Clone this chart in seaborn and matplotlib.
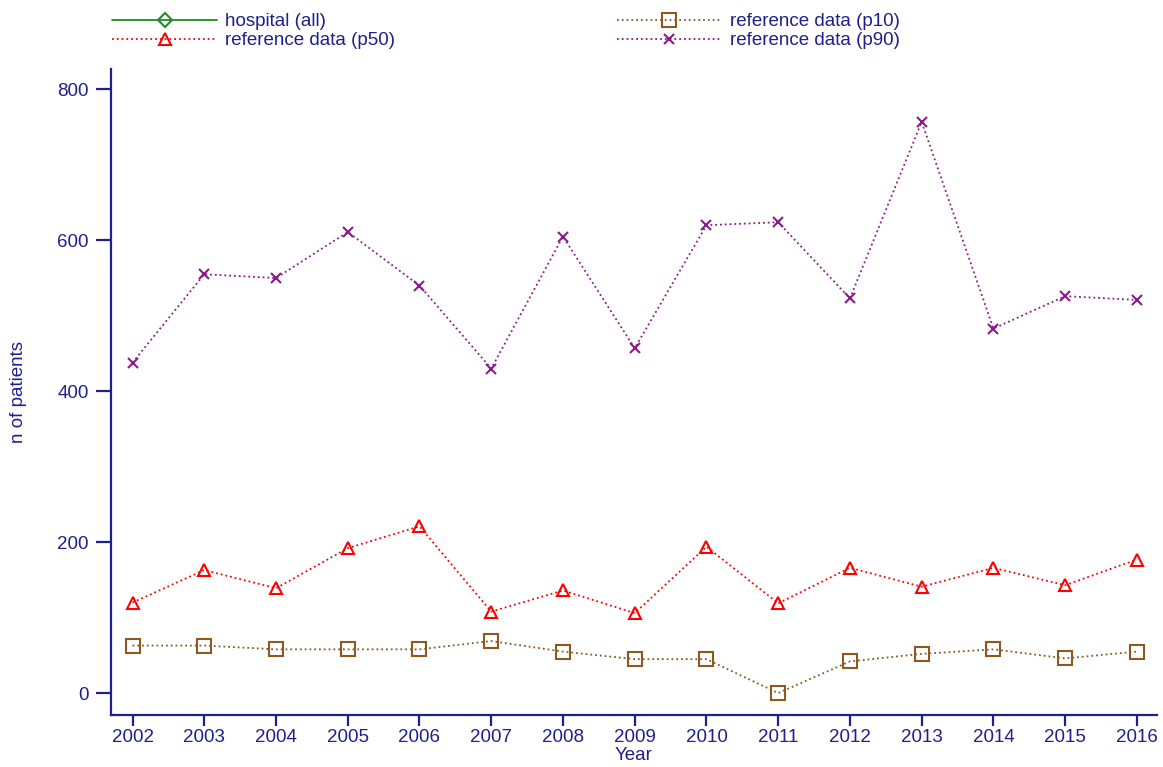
import numpy as np
import pandas as pd
import matplotlib
matplotlib.use("Agg")
import matplotlib.pyplot as plt
from matplotlib.lines import Line2D
import seaborn as sns

years = list(range(2002, 2017))
hospital_all = [np.nan] * 15
p10 = [63, 63, 58, 58, 58, 69, 55, 45, 45, 0, 42, 52, 58, 46, 55]
p50 = [120, 163, 139, 192, 221, 108, 136, 106, 194, 119, 166, 141, 166, 143, 177]
p90 = [438, 555, 550, 611, 540, 430, 605, 457, 620, 624, 523, 757, 483, 526, 521]
labels = ["hospital (all)", "reference data (p50)", "reference data (p10)", "reference data (p90)"]
yticks = [0, 200, 400, 600, 800]

sns.set_style("ticks")
plt.rcParams["font.family"] = ["Liberation Sans", "DejaVu Sans"]

navy = "#1f1f8f"
styles = {
    "hospital (all)": dict(color="#1e8c1e", marker="D", linestyle="-", ms=7),
    "reference data (p50)": dict(color="#ff0000", marker="^", linestyle=":", ms=9),
    "reference data (p10)": dict(color="#8b5a1e", marker="s", linestyle=":", ms=9.5),
    "reference data (p90)": dict(color="#8b1a8b", marker="x", linestyle=":", ms=7),
}
series = {
    "hospital (all)": hospital_all,
    "reference data (p50)": p50,
    "reference data (p10)": p10,
    "reference data (p90)": p90,
}

fig = plt.figure(figsize=(11.63, 7.67), dpi=100)
ax = fig.add_axes([111 / 1163, 1 - 715 / 767, (1157 - 111) / 1163, (715 - 69) / 767])

for name in ["reference data (p10)", "reference data (p50)", "reference data (p90)", "hospital (all)"]:
    df = pd.DataFrame({"Year": years, "v": series[name]}).dropna()
    st = styles[name]
    if len(df):
        sns.lineplot(data=df, x="Year", y="v", ax=ax, color=st["color"], linestyle=st["linestyle"],
                     marker=st["marker"], markersize=st["ms"], markerfacecolor="none",
                     markeredgecolor=st["color"], markeredgewidth=1.5, linewidth=1.3)

ax.set_xlim(2002 - 0.3, 2016 + 0.28)
ax.set_ylim(-29, 827)
ax.set_xticks(years)
ax.set_xticklabels([str(y) for y in years])
ax.set_yticks(yticks)
ax.set_yticklabels([str(t) for t in yticks])

for s in ["top", "right"]:
    ax.spines[s].set_visible(False)
for s in ["left", "bottom"]:
    ax.spines[s].set_color(navy)
    ax.spines[s].set_linewidth(1.6)
ax.tick_params(axis="y", length=11, width=1.6, color=navy, labelcolor=navy, labelsize=13.5, pad=5)
ax.tick_params(axis="x", length=8, width=1.6, color=navy, labelcolor=navy, labelsize=13.5, pad=2)
ax.set_xlabel("Year", color=navy, fontsize=13.5, labelpad=1)
ax.set_ylabel("n of patients", color=navy, fontsize=13.5, labelpad=22)

handles = []
for name in labels:
    st = styles[name]
    handles.append(Line2D([], [], color=st["color"], linestyle=st["linestyle"], marker=st["marker"],
                          markersize=st["ms"], markerfacecolor="none", markeredgecolor=st["color"],
                          markeredgewidth=1.5, linewidth=1.3))
leg = fig.legend(handles, labels, loc="upper left", bbox_to_anchor=(112 / 1163, 1 - 13 / 767), ncol=2,
                 frameon=False, fontsize=13.5, labelcolor=navy, handlelength=5.6, handletextpad=0.45,
                 columnspacing=11.8, labelspacing=0.1, borderpad=0, borderaxespad=0)

fig.savefig("out.png", dpi=100)
